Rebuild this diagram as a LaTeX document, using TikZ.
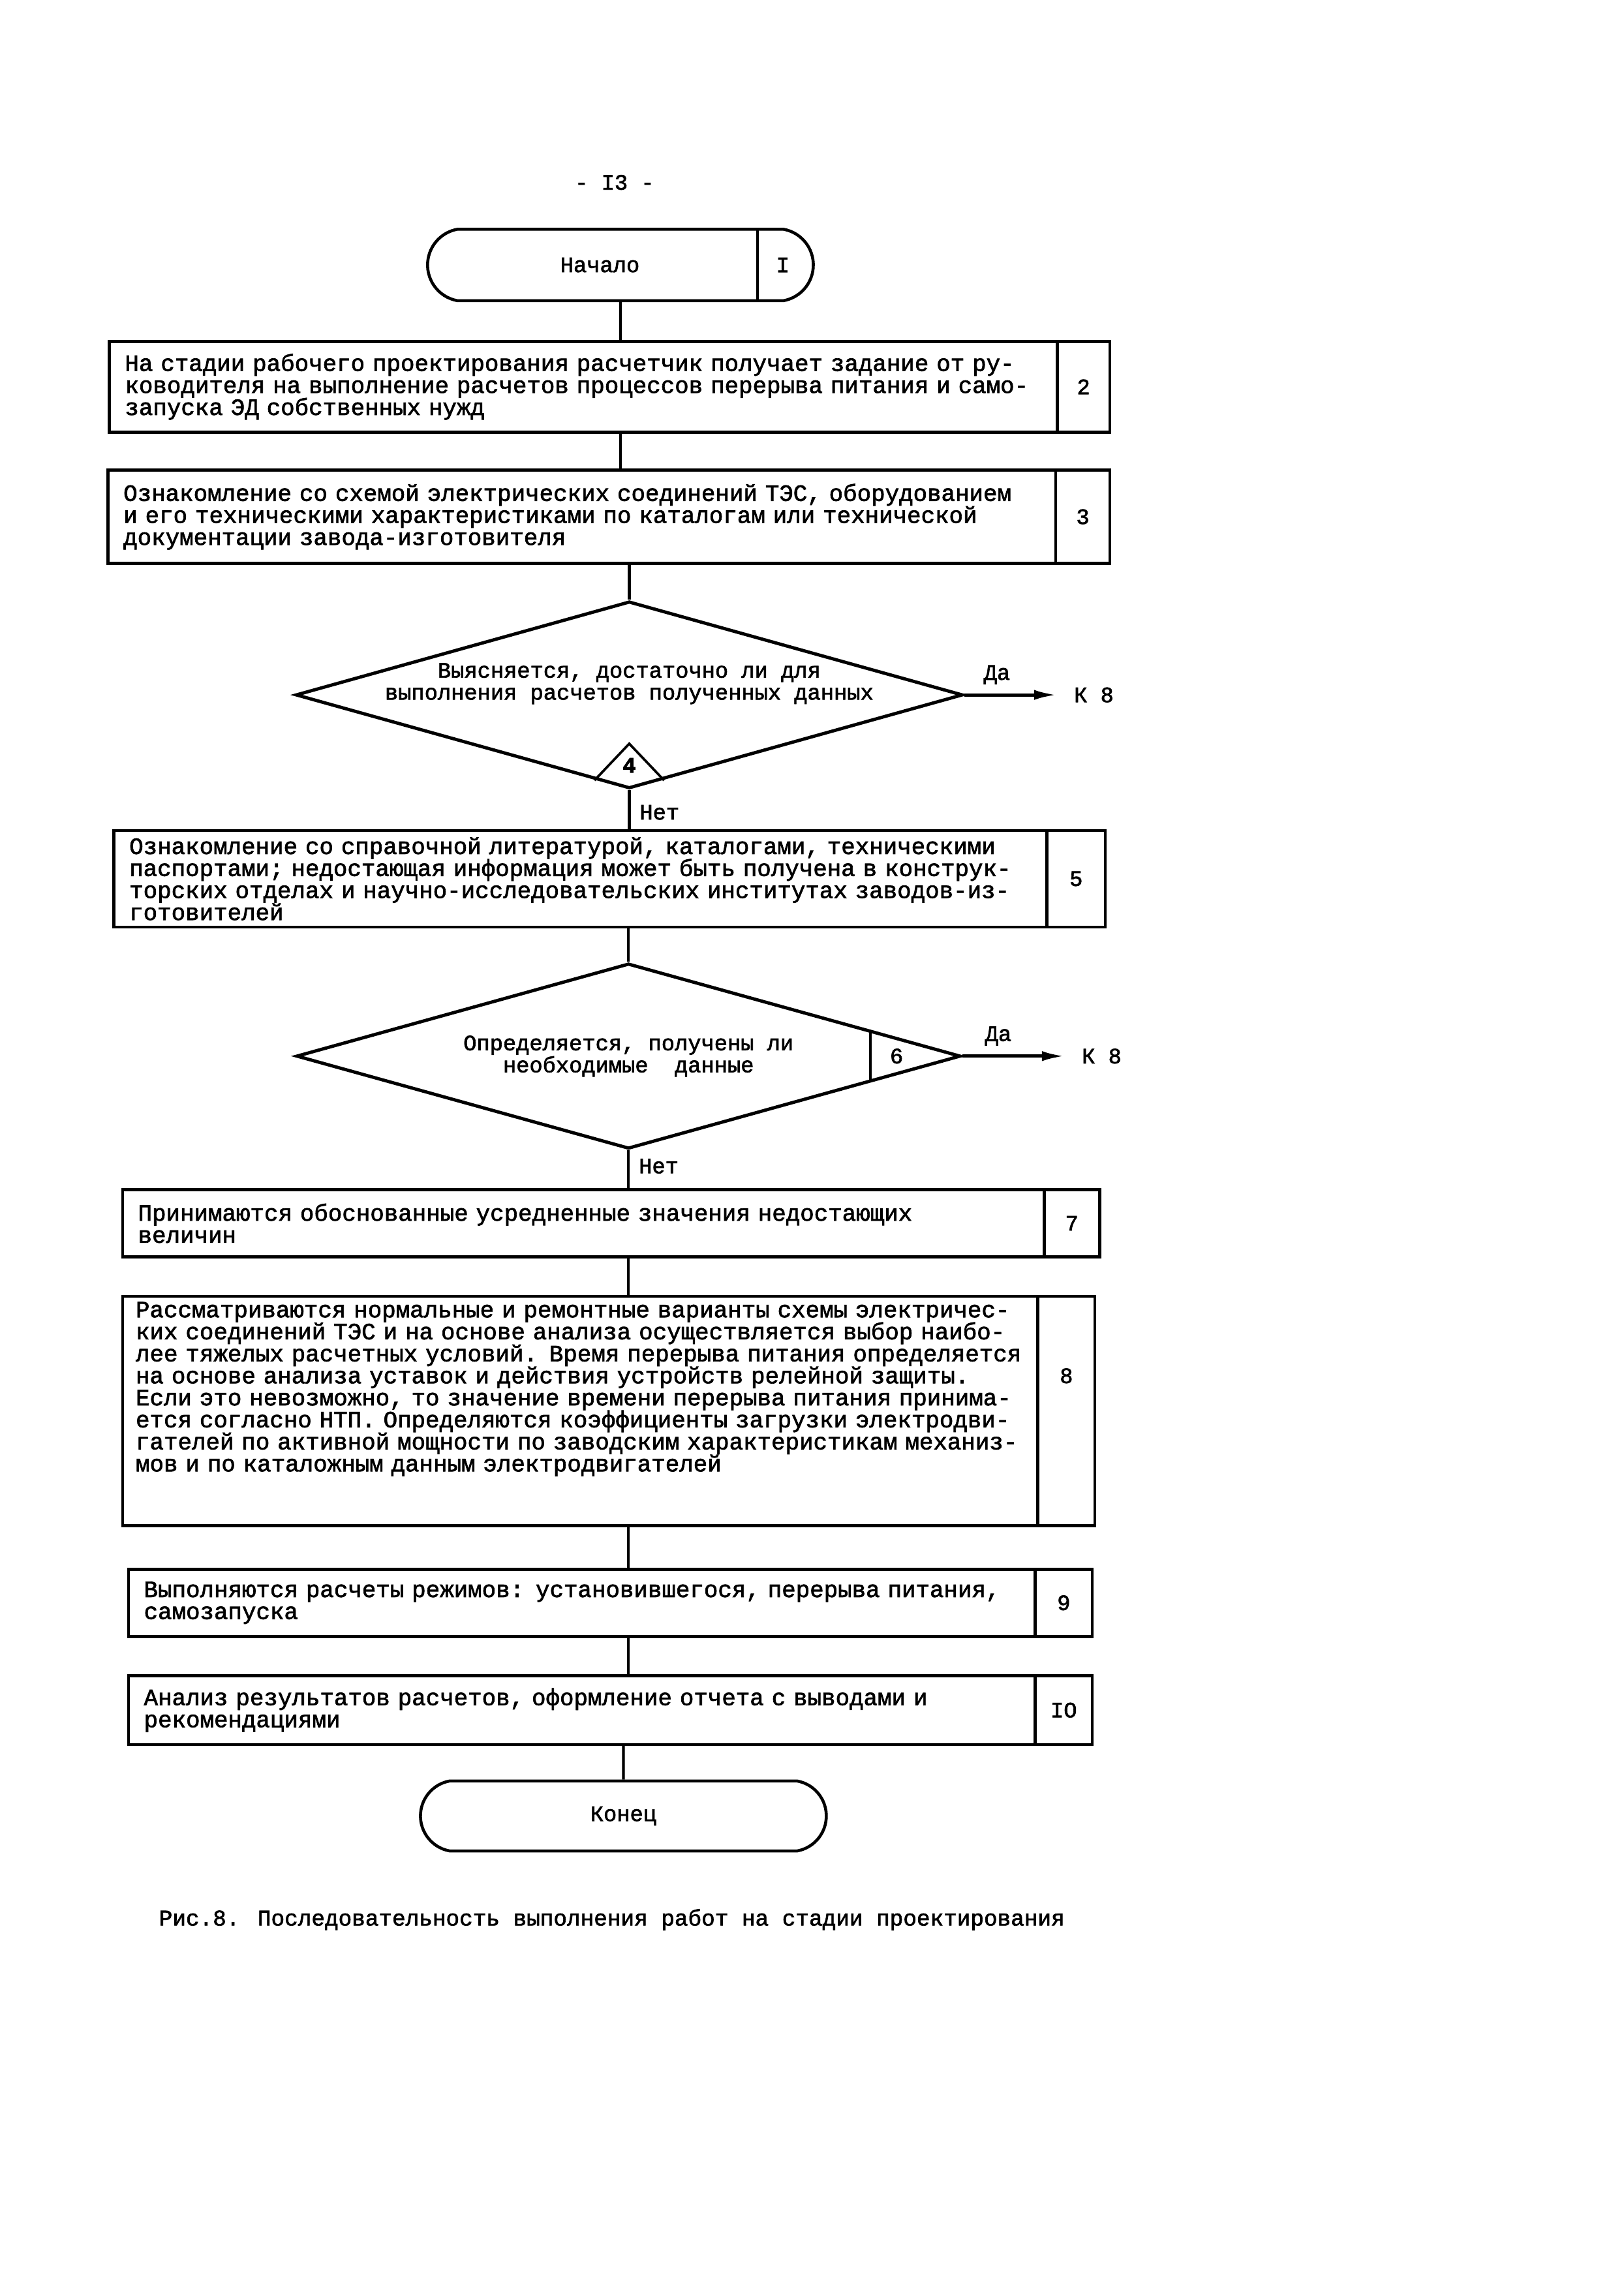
\documentclass[tikz,border=0pt]{standalone}
\usepackage{fontspec}
\newfontfamily\tw{Liberation Mono}[FakeBold=2]
\usetikzlibrary{positioning,shapes.geometric,shapes.misc,arrows.meta}

\begin{document}
\begin{tikzpicture}[
  line width=1pt,
  every node/.style={font=\tw\fontsize{8.1}{8.1}\selectfont},
  terminal/.style={draw, rounded rectangle, rounded rectangle arc length=160, line width=1.1pt, inner sep=0pt},
  procbox/.style={draw, rectangle, anchor=north west, align=left, inner xsep=0.2cm, inner ysep=0.05cm, outer sep=0pt, line width=1.1pt, font=\tw\fontsize{8.6}{8.1}\selectfont},
  numcell/.style={draw, rectangle, inner sep=0pt, outer sep=0pt, line width=1.1pt},
  decision/.style={draw, diamond, aspect=3.57, inner sep=0pt, align=center, line width=1.2pt},
  arrow/.style={-{Latex[length=3mm,width=1.3mm]}, line width=1.2pt}
]
\useasboundingbox (0,0) rectangle (21,-29.6);

\node (pagenum) at (7.95,-2.36) {- I3 -};

\node[terminal, minimum width=4.99cm, minimum height=0.925cm] (start) at (8.026,-3.428) {Начало\hspace*{0.53cm}};
\draw ([xshift=1.775cm]start.north) -- ([xshift=1.775cm]start.south);
\node (n1) at ([xshift=2.1cm]start.center) {I};

\node[procbox, text width=11.86cm, minimum height=1.171cm] (box2) at (1.416,-4.419) {На стадии рабочего проектирования расчетчик получает задание от ру-\\ководителя на выполнение расчетов процессов перерыва питания и само-\\запуска ЭД собственных нужд};
\node[numcell, minimum width=0.68cm, minimum height=1.171cm, right=0pt of box2] (n2) {2};

\node[procbox, text width=11.86cm, minimum height=1.209cm] (box3) at (1.397,-6.081) {Ознакомление со схемой электрических соединений ТЭС, оборудованием\\и его техническими характеристиками по каталогам или технической\\документации завода-изготовителя};
\node[numcell, minimum width=0.7cm, minimum height=1.209cm, right=0pt of box3] (n3) {3};

\node[decision, minimum width=8.63cm, minimum height=2.42cm, inner xsep=-0.5cm, text depth=0.35cm] (d4) at (8.14,-8.99) {Выясняется, достаточно ли для\\выполнения расчетов полученных данных};
\draw[line width=0.9pt] ([shift={(-0.45,0.126)}]d4.south) -- ([yshift=0.6cm]d4.south) -- ([shift={(0.45,0.126)}]d4.south);
\node[font=\tw\bfseries\fontsize{8.1}{8.1}\selectfont] (t4) at ([yshift=0.32cm]d4.south) {4};
\node[inner sep=0.2cm, right=1.2cm of d4] (k8a) {К 8};

\node[procbox, text width=11.67cm, minimum height=1.246cm] (box5) at (1.473,-10.746) {Ознакомление со справочной литературой, каталогами, техническими\\паспортами; недостающая информация может быть получена в конструк-\\торских отделах и научно-исследовательских институтах заводов-из-\\готовителей};
\node[numcell, minimum width=0.755cm, minimum height=1.246cm, right=0pt of box5] (n5) {5};

\node[decision, minimum width=8.593cm, minimum height=2.398cm] (d6) at (8.13,-13.663) {Определяется, получены ли\\необходимые\ \ данные};
\draw[line width=0.9pt] ([shift={(-1.19,0.332)}]d6.east) -- ([shift={(-1.19,-0.332)}]d6.east);
\node (n6) at ([xshift=-0.85cm]d6.east) {6};
\node[inner sep=0.2cm, right=1.33cm of d6] (k8b) {К 8};

\node[procbox, text width=11.52cm, minimum height=0.869cm] (box7) at (1.586,-15.391) {Принимаются обоснованные усредненные значения недостающих\\величин};
\node[numcell, minimum width=0.718cm, minimum height=0.869cm, right=0pt of box7] (n7) {7};

\node[procbox, inner xsep=0.17cm, text width=11.5cm, minimum height=2.965cm, text depth=2.62cm] (box8) at (1.586,-16.77) {Рассматриваются нормальные и ремонтные варианты схемы электричес-\\ких соединений ТЭС и на основе анализа осуществляется выбор наибо-\\лее тяжелых расчетных условий. Время перерыва питания определяется\\на основе анализа уставок и действия устройств релейной защиты.\\Если это невозможно, то значение времени перерыва питания принима-\\ется согласно НТП. Определяются коэффициенты загрузки электродви-\\гателей по активной мощности по заводским характеристикам механиз-\\мов и по каталожным данным электродвигателей};
\node[numcell, minimum width=0.737cm, minimum height=2.965cm, text height=1.07cm, text depth=1.79cm, right=0pt of box8] (n8) {8};

\node[procbox, text width=11.33cm, minimum height=0.869cm] (box9) at (1.662,-20.301) {Выполняются расчеты режимов: установившегося, перерыва питания,\\самозапуска};
\node[numcell, minimum width=0.737cm, minimum height=0.869cm, right=0pt of box9] (n9) {9};

\node[procbox, text width=11.33cm, minimum height=0.888cm] (box10) at (1.662,-21.68) {Анализ результатов расчетов, оформление отчета с выводами и\\рекомендациями};
\node[numcell, minimum width=0.737cm, minimum height=0.888cm, right=0pt of box10] (n10) {IO};

\node[terminal, minimum width=5.25cm, minimum height=0.906cm] (finish) at (8.064,-23.493) {Конец};

\node[anchor=west, inner sep=0pt, font=\tw\fontsize{8.25}{8.25}\selectfont] (caption) at (2.04,-24.834) {Рис.8. Последовательность выполнения работ на стадии проектирования};

\draw (start) -- (start |- box2.north);
\draw (box2.south -| start) -- (box3.north -| start);
\draw (box3.south -| d4) -- (d4);
\draw[arrow] (d4) -- (k8a) node[pos=0.35, above] {Да};
\draw (d4) -- (d4 |- box5.north) node[pos=0.55, right] {Нет};
\draw (box5.south -| d6) -- (d6);
\draw[arrow] (d6) -- (k8b) node[pos=0.35, above] {Да};
\draw (d6) -- (d6 |- box7.north) node[pos=0.4, right] {Нет};
\draw (box7.south -| d6) -- (box8.north -| d6);
\draw (box8.south -| d6) -- (box9.north -| d6);
\draw (box9.south -| d6) -- (box10.north -| d6);
\draw (box10.south -| finish) -- (finish);
\end{tikzpicture}
\end{document}
